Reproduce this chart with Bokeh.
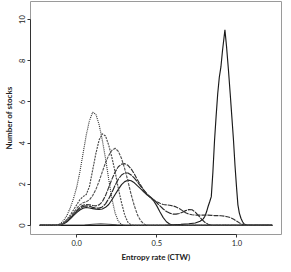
from bokeh.plotting import figure
from bokeh.models import Range1d, FixedTicker
from bokeh.embed import file_html
from bokeh.resources import INLINE

# ---- data ----
x_lim = [-0.23, 1.22]

curve_a_x = [-0.23, -0.14, -0.12, -0.10, -0.08, -0.06, -0.04, -0.02, 0.0, 0.02, 0.04, 0.06, 0.08, 0.10, 0.12,
             0.14, 0.16, 0.18, 0.20, 0.22, 0.24, 0.26, 0.28, 0.30, 1.22]
curve_a_y = [0, 0, 0.03, 0.1, 0.25, 0.5, 0.85, 1.3, 1.85, 2.6, 3.5, 4.4, 5.1, 5.5, 5.4,
             4.9, 4.15, 3.25, 2.25, 1.3, 0.6, 0.2, 0.05, 0, 0]

curve_b_x = [-0.23, -0.12, -0.10, -0.08, -0.06, -0.04, -0.02, 0.0, 0.02, 0.04, 0.06, 0.08, 0.10, 0.12, 0.14,
             0.16, 0.18, 0.20, 0.22, 0.24, 0.26, 0.28, 0.30, 0.32, 0.34, 0.36, 1.22]
curve_b_y = [0, 0, 0.05, 0.15, 0.3, 0.5, 0.75, 1.0, 1.25, 1.4, 1.5, 1.9, 2.7, 3.5, 4.15,
             4.45, 4.35, 3.9, 3.3, 2.6, 1.8, 1.1, 0.5, 0.15, 0.03, 0, 0]

curve_c_x = [-0.23, -0.12, -0.10, -0.08, -0.06, -0.04, -0.02, 0.0, 0.02, 0.04, 0.06, 0.08, 0.10, 0.12, 0.14,
             0.16, 0.18, 0.20, 0.22, 0.24, 0.26, 0.28, 0.30, 0.32, 0.34, 0.36, 0.38, 0.40, 0.42, 0.44, 1.22]
curve_c_y = [0, 0, 0.04, 0.12, 0.25, 0.42, 0.62, 0.82, 1.0, 1.1, 1.15, 1.25, 1.45, 1.75, 2.15,
             2.6, 3.05, 3.4, 3.65, 3.75, 3.6, 3.25, 2.75, 2.15, 1.5, 0.95, 0.5, 0.22, 0.07, 0.01, 0]

curve_d_x = [-0.23, -0.12, -0.10, -0.08, -0.06, -0.04, -0.02, 0.0, 0.02, 0.04, 0.06, 0.08, 0.10, 0.12, 0.14,
             0.16, 0.18, 0.20, 0.22, 0.24, 0.26, 0.28, 0.30, 0.32, 0.34, 0.36, 0.38, 0.40, 0.42, 0.44,
             0.46, 0.48, 0.50, 0.52, 0.54, 0.56, 0.58, 0.60, 0.62, 0.64, 0.66, 0.68, 0.70, 0.72, 0.74,
             0.76, 0.78, 0.80, 0.82, 0.84, 0.86, 0.88, 0.90, 0.92, 0.94, 0.96, 0.98, 1.00, 1.02, 1.04,
             1.06, 1.08, 1.22]
curve_d_y = [0, 0, 0.04, 0.1, 0.22, 0.38, 0.55, 0.72, 0.88, 0.98, 1.02, 1.0, 0.97, 0.95, 1.0,
             1.15, 1.45, 1.85, 2.25, 2.6, 2.85, 2.98, 3.0, 2.92, 2.75, 2.5, 2.2, 1.95, 1.7, 1.5,
             1.35, 1.25, 1.15, 1.08, 1.02, 1.0, 0.98, 0.95, 0.9, 0.82, 0.72, 0.62, 0.55, 0.52, 0.5,
             0.5, 0.5, 0.5, 0.5, 0.49, 0.48, 0.48, 0.47, 0.45, 0.42, 0.38, 0.3, 0.2, 0.1, 0.04,
             0.01, 0, 0]

curve_e_x = [-0.23, -0.12, -0.10, -0.08, -0.06, -0.04, -0.02, 0.0, 0.02, 0.04, 0.06, 0.08, 0.10, 0.12, 0.14,
             0.16, 0.18, 0.20, 0.22, 0.24, 0.26, 0.28, 0.30, 0.32, 0.34, 0.36, 0.38, 0.40, 0.42, 0.44,
             0.46, 0.48, 0.50, 0.52, 0.54, 0.56, 0.58, 0.60, 0.62, 0.64, 0.66, 0.68, 0.70, 0.72, 0.74,
             0.76, 0.78, 0.80, 0.82, 0.84, 0.86, 1.22]
curve_e_y = [0, 0, 0.03, 0.1, 0.2, 0.35, 0.52, 0.68, 0.82, 0.92, 0.95, 0.93, 0.88, 0.84, 0.84,
             0.9, 1.05, 1.3, 1.6, 1.95, 2.25, 2.45, 2.55, 2.55, 2.45, 2.3, 2.1, 1.9, 1.7, 1.52,
             1.38, 1.25, 1.1, 0.95, 0.8, 0.68, 0.6, 0.55, 0.55, 0.58, 0.64, 0.72, 0.77, 0.76, 0.65,
             0.48, 0.3, 0.15, 0.06, 0.01, 0, 0]

curve_f_x = [-0.23, -0.12, -0.10, -0.08, -0.06, -0.04, -0.02, 0.0, 0.02, 0.04, 0.06, 0.08, 0.10, 0.12, 0.14,
             0.16, 0.18, 0.20, 0.22, 0.24, 0.26, 0.28, 0.30, 0.32, 0.34, 0.36, 0.38, 0.40, 0.42, 0.44,
             0.46, 0.48, 0.50, 0.52, 0.54, 0.56, 0.58, 0.60, 0.62, 1.22]
curve_f_y = [0, 0, 0.03, 0.08, 0.18, 0.32, 0.48, 0.62, 0.75, 0.84, 0.87, 0.85, 0.82, 0.79, 0.78,
             0.8, 0.88, 1.02, 1.25, 1.5, 1.75, 1.98, 2.13, 2.2, 2.17, 2.07, 1.92, 1.78, 1.62, 1.48,
             1.37, 1.2, 0.95, 0.65, 0.38, 0.18, 0.07, 0.02, 0, 0]

curve_g_x = [-0.23, 0.50, 0.55, 0.60, 0.65, 0.70, 0.74, 0.77, 0.79, 0.80, 0.81, 0.82, 0.83, 0.84, 0.85,
             0.86, 0.87, 0.88, 0.89, 0.90, 0.91, 0.925, 0.935, 0.947, 0.958, 0.968, 0.978, 0.988, 0.998,
             1.006, 1.015, 1.025, 1.035, 1.045, 1.06, 1.08, 1.22]
curve_g_y = [0, 0, 0.01, 0.03, 0.05, 0.08, 0.12, 0.2, 0.32, 0.45, 0.65, 0.92, 1.15, 1.4, 2.6,
             4.1, 5.3, 6.4, 7.2, 7.7, 8.5, 9.5, 8.7, 7.55, 6.4, 5.3, 4.2, 2.9, 1.8,
             1.0, 0.6, 0.35, 0.18, 0.07, 0.02, 0, 0]

curve_h_x = [-0.23, 0.0, 0.05, 0.10, 0.15, 0.20, 0.25, 0.30, 0.35, 1.22]
curve_h_y = [0, 0, 0.02, 0.06, 0.08, 0.06, 0.03, 0.01, 0, 0]

y_ticks = [0, 2, 4, 6, 8, 10]
x_ticks = [0.0, 0.5, 1.0]
x_tick_labels = {0.0: "0.0", 0.5: "0.5", 1.0: "1.0"}
y_tick_labels = {0: "0", 2: "2", 4: "4", 6: "6", 8: "8", 10: "10"}

# ---- figure ----
FONT = "Lato"
p = figure(width=283, height=264, output_backend="svg", toolbar_location=None,
           x_range=Range1d(-0.288, 1.278), y_range=Range1d(-0.44, 10.88),
           min_border_left=24, min_border_right=2, min_border_top=1, min_border_bottom=25)
p.background_fill_color = "white"
p.border_fill_color = "white"
p.outline_line_color = "#9a9a9a"
p.outline_line_width = 1
p.xgrid.visible = False
p.ygrid.visible = False

curves = [
    (curve_h_x, curve_h_y, "#555555", "solid"),
    (curve_g_x, curve_g_y, "#1a1a1a", "solid"),
    (curve_f_x, curve_f_y, "#222222", "solid"),
    (curve_e_x, curve_e_y, "#2a2a2a", "7 1"),
    (curve_d_x, curve_d_y, "#333333", "5 1"),
    (curve_c_x, curve_c_y, "#555555", "3 1"),
    (curve_b_x, curve_b_y, "#4a4a4a", "2 1"),
    (curve_a_x, curve_a_y, "#333333", "1 1"),
]
for xs, ys, col, dash in curves:
    p.line(xs, ys, line_color=col, line_width=1.15, line_dash=dash)

for ax, ticks, labels, bnds in ((p.xaxis[0], x_ticks, x_tick_labels, (0, 1)),
                                (p.yaxis[0], y_ticks, y_tick_labels, (0, 10))):
    ax.ticker = FixedTicker(ticks=ticks)
    ax.major_label_overrides = labels
    ax.bounds = bnds
    ax.minor_tick_line_color = None
    ax.major_tick_in = 0
    ax.major_tick_out = 3
    ax.axis_line_color = "#333333"
    ax.major_tick_line_color = "#333333"
    ax.major_label_text_font = FONT
    ax.major_label_text_font_size = "7.5px"
    ax.major_label_text_color = "#222222"
    ax.axis_label_text_font = FONT
    ax.axis_label_text_font_size = "8px"
    ax.axis_label_text_font_style = "bold"
    ax.axis_label_text_color = "#222222"
    ax.major_label_standoff = 2
    ax.axis_label_standoff = 3

p.xaxis.axis_label = "Entropy rate (CTW)"
p.yaxis.axis_label = "Number of stocks"
p.yaxis.major_label_orientation = "vertical"

open("out.html", "w").write(file_html(p, INLINE))
